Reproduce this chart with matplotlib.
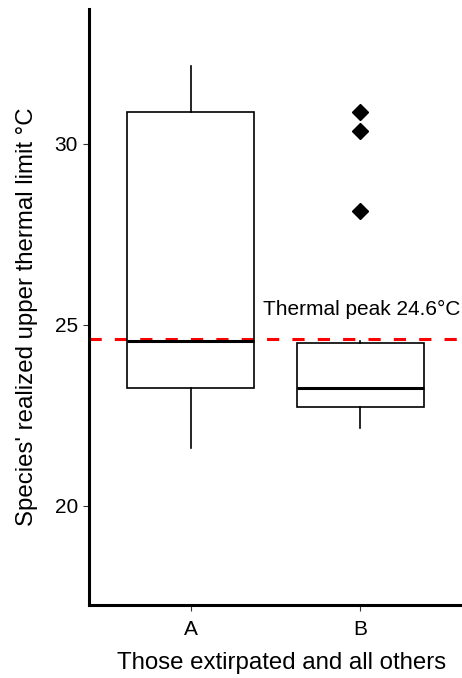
import matplotlib
matplotlib.use("Agg")
import matplotlib.pyplot as plt

plt.rcParams['font.family'] = ['Liberation Sans', 'DejaVu Sans']

groups = ['A', 'B']
whislo = [21.6, 22.14]
q1 = [23.25, 22.74]
med = [24.56, 23.25]
q3 = [30.88, 24.51]
whishi = [32.15, 24.55]
fliers = [[], [30.89, 30.36, 28.16]]
peak = 24.6

stats = []
for i in range(len(groups)):
    stats.append({'label': groups[i], 'whislo': whislo[i], 'q1': q1[i], 'med': med[i],
                  'q3': q3[i], 'whishi': whishi[i], 'fliers': fliers[i]})

fig = plt.figure(figsize=(4.62, 6.78), dpi=100)
ax = fig.add_axes([0.1926, 0.1077, 0.8074, 0.879])

ax.axhline(peak, color='#ff0000', lw=2.2, ls=(0, (4, 4.3)), zorder=1)

ax.bxp(stats, positions=[1, 2], widths=0.75, showcaps=False, patch_artist=True,
       boxprops=dict(facecolor='none', edgecolor='black', lw=1.2),
       whiskerprops=dict(color='black', lw=1.2),
       medianprops=dict(color='black', lw=2.2),
       flierprops=dict(marker='D', markerfacecolor='black', markeredgecolor='black', markersize=8.3),
       zorder=2)

ax.text(2.59, 25.27, 'Thermal peak 24.6°C', ha='right', va='baseline', fontsize=15)

ax.set_xlim(0.4, 2.6)
ax.set_ylim(17.26, 33.73)
ax.set_yticks([20, 25, 30])
ax.set_xticks([1, 2])
ax.set_xticklabels(groups)
ax.tick_params(labelsize=15, length=4, width=0.8, color='#333333')
ax.tick_params(axis='x', pad=7)
ax.tick_params(axis='y', pad=4)
for s in ['top', 'right']:
    ax.spines[s].set_visible(False)
for s in ['left', 'bottom']:
    ax.spines[s].set_linewidth(2.2)
ax.set_ylabel("Species' realized upper thermal limit °C", fontsize=17.3, labelpad=12)
ax.set_xlabel('Those extirpated and all others', fontsize=17.3, labelpad=9)
ax.yaxis.label.set_y(0.484)
ax.xaxis.label.set_x(0.517)

fig.savefig('out.png', dpi=100)
